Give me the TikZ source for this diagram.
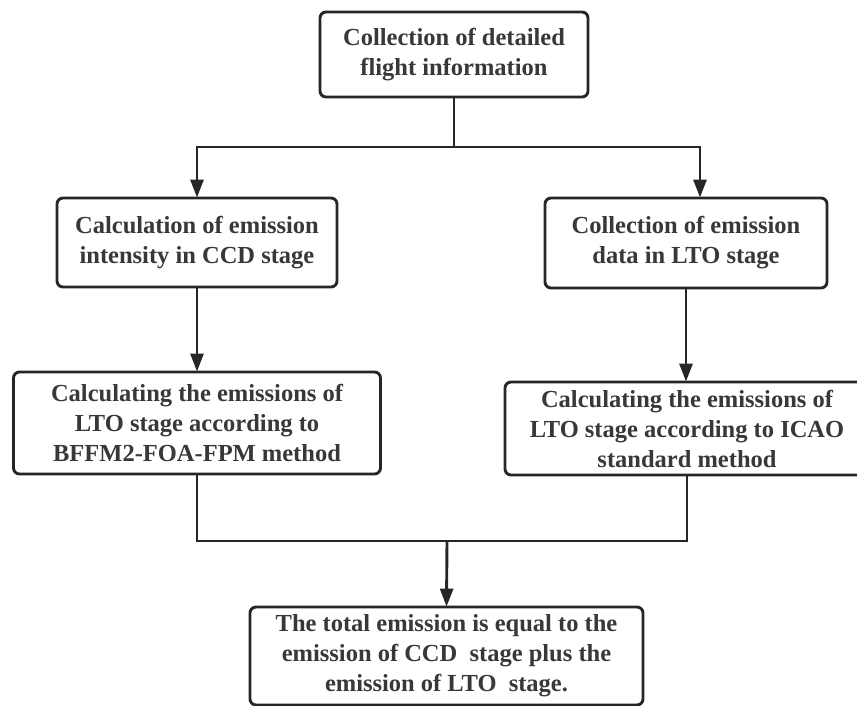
\documentclass[tikz,border=0pt]{standalone}
\usepackage{fontspec}
\setmainfont{Liberation Serif}
\usetikzlibrary{arrows.meta}
\definecolor{linec}{HTML}{262626}
\definecolor{txtc}{HTML}{383838}
\tikzset{
  box/.style={draw=linec, line width=2.9pt, rounded corners=6pt, fill=white,
    inner sep=0pt, align=center, text=txtc,
    font=\fontsize{24.5}{30}\selectfont\bfseries},
  conn/.style={draw=linec, line width=2.9pt},
  arr/.style={conn, -{Triangle[width=13pt,length=18pt]}, shorten >=-1pt}
}
\begin{document}
\begin{tikzpicture}[x=1pt,y=-1pt]
\useasboundingbox (0,0) rectangle (857,706);
\clip (0,0) rectangle (857,706);
\node[box, minimum width=268pt, minimum height=85pt] (top) at (454,54.5)
  {Collection of detailed\\flight information};
\node[box, minimum width=280pt, minimum height=89pt] (lmid) at (197,242.5)
  {Calculation of emission\\intensity in CCD stage};
\node[box, minimum width=282pt, minimum height=90pt] (rmid) at (686,243)
  {Collection of emission\\data in LTO stage};
\node[box, minimum width=367pt, minimum height=102pt] (llow) at (197,423)
  {Calculating the emissions of\\LTO stage according to\\BFFM2-FOA-FPM method};
\node[box, minimum width=364pt, minimum height=93pt] (rlow) at (687,428.5)
  {Calculating the emissions of\\LTO stage according to ICAO\\standard method};
\node[box, minimum width=393pt, minimum height=98pt] (bot) at (446.5,656)
  {The total emission is equal to the\\emission of CCD\ \ stage plus the\\emission of LTO\ \ stage.};
\coordinate (j1) at (454,147);
\coordinate (j2) at (447,541);
\draw[conn] (top.south) -- (j1);
\draw[arr] (j1) -| (lmid.north);
\draw[arr] (j1) -| ([xshift=14pt]rmid.north);
\draw[arr] (lmid.south) -- (lmid.south |- llow.north);
\draw[arr] (rmid.south) -- (rmid.south |- rlow.north);
\draw[conn] (llow.south) |- (j2) -| (rlow.south);
\draw[arr] (j2) -- (bot.north);
\end{tikzpicture}
\end{document}
